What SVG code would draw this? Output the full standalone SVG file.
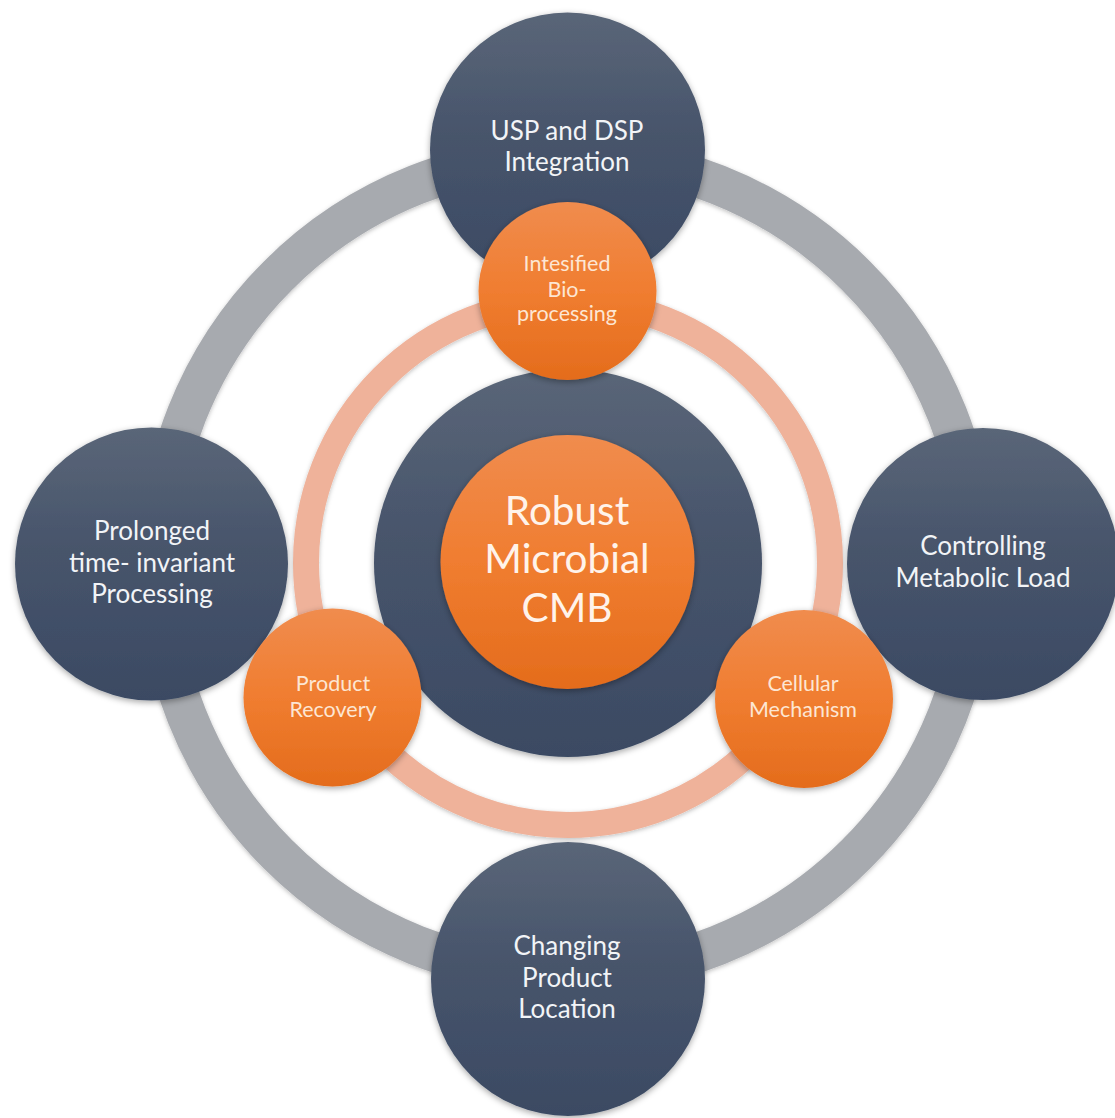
<svg xmlns="http://www.w3.org/2000/svg" width="1115" height="1118" viewBox="0 0 1115 1118">
  <defs>
    <linearGradient id="navy" x1="0" y1="0" x2="0" y2="1">
      <stop offset="0" stop-color="#5a6678"/>
      <stop offset="0.45" stop-color="#47546b"/>
      <stop offset="1" stop-color="#3b4a63"/>
    </linearGradient>
    <linearGradient id="orange" x1="0" y1="0" x2="0" y2="1">
      <stop offset="0" stop-color="#f08c4e"/>
      <stop offset="0.5" stop-color="#f07d30"/>
      <stop offset="1" stop-color="#e46c1c"/>
    </linearGradient>
    <filter id="shadow" x="-20%" y="-20%" width="140%" height="140%">
      <feDropShadow dx="0" dy="2" stdDeviation="3" flood-color="#000" flood-opacity="0.35"/>
    </filter>
    <filter id="ringShadow" x="-10%" y="-10%" width="120%" height="120%">
      <feDropShadow dx="0" dy="1.5" stdDeviation="2" flood-color="#000" flood-opacity="0.25"/>
    </filter>
  </defs>
  <style>
    .big { fill: url(#navy); filter: url(#shadow); }
    .small { fill: url(#orange); filter: url(#shadow); }
    .lbl { font-family: Lato, "Open Sans", "Liberation Sans", sans-serif; text-anchor: middle; }
    .lblBig { fill: #f2f4f7; font-size: 26px; }
    .lblSmall { fill: #fde6d3; font-size: 21.5px; }
    .lblCore { fill: #fff3ea; font-size: 40.5px; }
  </style>

  <rect width="1115" height="1118" fill="#ffffff"/>

  <!-- linking rings -->
  <g id="connectors" fill="none" filter="url(#ringShadow)">
    <circle cx="567" cy="565" r="409" stroke="#a7aaaf" stroke-width="40"/>
    <circle cx="568" cy="563" r="262" stroke="#efb29a" stroke-width="26"/>
  </g>

  <!-- outer themes -->
  <g id="node-usp-dsp">
    <circle class="big" cx="567.5" cy="150" r="137.5"/>
    <text class="lbl lblBig" x="567" y="140">USP and DSP</text>
    <text class="lbl lblBig" x="567" y="171">Integration</text>
  </g>
  <g id="node-prolonged">
    <circle class="big" cx="151.5" cy="564" r="136.5"/>
    <text class="lbl lblBig" x="152" y="540">Prolonged</text>
    <text class="lbl lblBig" x="152" y="572">time- invariant</text>
    <text class="lbl lblBig" x="152" y="603">Processing</text>
  </g>
  <g id="node-metabolic-load">
    <circle class="big" cx="983" cy="564" r="136"/>
    <text class="lbl lblBig" x="983" y="555">Controlling</text>
    <text class="lbl lblBig" x="983" y="587">Metabolic Load</text>
  </g>
  <g id="node-product-location">
    <circle class="big" cx="568" cy="979" r="137"/>
    <text class="lbl lblBig" x="567" y="955">Changing</text>
    <text class="lbl lblBig" x="567" y="987">Product</text>
    <text class="lbl lblBig" x="567" y="1018">Location</text>
  </g>

  <!-- core -->
  <g id="node-core">
    <circle class="big" cx="568" cy="563" r="194"/>
    <circle class="small" cx="567.5" cy="562" r="127"/>
    <text class="lbl lblCore" x="567" y="525">Robust</text>
    <text class="lbl lblCore" x="567" y="573">Microbial</text>
    <text class="lbl lblCore" x="567" y="622">CMB</text>
  </g>

  <!-- inner themes -->
  <g id="node-bioprocessing">
    <circle class="small" cx="567.5" cy="291" r="89"/>
    <text class="lbl lblSmall" x="567" y="271">Intesified</text>
    <text class="lbl lblSmall" x="567" y="297">Bio-</text>
    <text class="lbl lblSmall" x="567" y="321">processing</text>
  </g>
  <g id="node-product-recovery">
    <circle class="small" cx="332.5" cy="697.5" r="89"/>
    <text class="lbl lblSmall" x="333" y="691">Product</text>
    <text class="lbl lblSmall" x="333" y="717">Recovery</text>
  </g>
  <g id="node-cellular-mechanism">
    <circle class="small" cx="804" cy="699" r="89"/>
    <text class="lbl lblSmall" x="803" y="691">Cellular</text>
    <text class="lbl lblSmall" x="803" y="717">Mechanism</text>
  </g>
</svg>
